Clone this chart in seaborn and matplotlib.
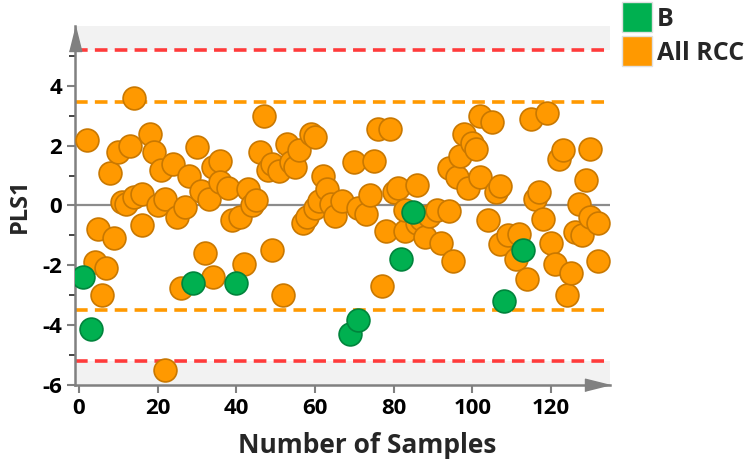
import seaborn as sns
import matplotlib.pyplot as plt
import pandas as pd
from matplotlib.lines import Line2D

# data (sample number, PLS1 score)
x_rcc = [2, 4, 5, 6, 7, 8, 9, 10, 11, 12, 13, 14, 14, 16, 16, 18, 19, 20, 21, 22,
         22, 24, 25, 26, 27, 28, 30, 31, 32, 33, 34, 34, 36, 36, 38, 39, 41, 42, 43, 44,
         45, 46, 47, 48, 49, 49, 51, 52, 53, 54, 55, 56, 57, 58, 59, 60, 60, 61, 62, 63,
         64, 65, 67, 70, 71, 73, 74, 75, 76, 77, 78, 79, 80, 81, 83, 83, 86, 86, 87, 88,
         89, 91, 92, 94, 94, 95, 96, 97, 98, 99, 100, 101, 102, 102, 104, 105, 106, 107, 107, 109,
         111, 112, 114, 115, 116, 117, 118, 119, 120, 121, 122, 123, 124, 125, 126, 127, 128, 129, 130, 130,
         132, 132]
y_rcc = [2.2, -1.9, -0.8, -3.0, -2.1, 1.1, -1.1, 1.8, 0.1, 0.05, 2.0, 3.6, 0.3, -0.65, 0.4, 2.4, 1.8, 0.0, 1.2, 0.2,
         -5.5, 1.4, -0.4, -2.75, -0.05, 1.0, 1.95, 0.5, -1.6, 0.2, 1.3, -2.4, 1.5, 0.8, 0.6, -0.5, -0.4, -1.95, 0.55, 0.0,
         0.17, 1.8, 3.0, 1.2, -1.5, 1.4, 1.15, -3.0, 2.05, 1.45, 1.3, 1.85, -0.6, -0.4, 2.4, 2.3, -0.1, 0.15, 1.0, 0.55,
         0.05, -0.35, 0.15, 1.45, -0.1, -0.3, 0.35, 1.5, 2.55, -2.7, -0.85, 2.55, 0.45, 0.6, -0.85, -0.15, 0.7, -0.6, -0.45, -1.05,
         -0.35, -0.15, -1.25, -0.2, 1.25, -1.85, 0.95, 1.65, 2.4, 0.6, 2.1, 1.9, 3.0, 0.95, -0.5, 2.8, 0.45, 0.65, -1.3, -1.0,
         -1.8, -0.95, -2.45, 2.9, 0.2, 0.45, -0.45, 3.1, -1.25, -1.95, 1.55, 1.85, -3.0, -2.25, -0.9, 0.05, -1.0, 0.85, 1.9, -0.4,
         -0.6, -1.85]

x_b = [1, 3, 29, 40, 69, 71, 82, 85, 108, 113]
y_b = [-2.4, -4.13, -2.6, -2.6, -4.3, -3.83, -1.8, -0.22, -3.18, -1.48]

groups = ['B', 'All RCC']
colors = {'B': '#00B050', 'All RCC': '#FF9900'}
edges = {'B': '#00843C', 'All RCC': '#C97800'}

upper_red, lower_red = 5.19, -5.2
upper_org, lower_org = 3.47, -3.48

df = pd.concat([
    pd.DataFrame({'Sample': x_rcc, 'PLS1': y_rcc, 'Group': 'All RCC'}),
    pd.DataFrame({'Sample': x_b, 'PLS1': y_b, 'Group': 'B'}),
], ignore_index=True)

sns.set_style('white')
plt.rcParams['font.family'] = ['Open Sans', 'DejaVu Sans']
plt.rcParams['font.weight'] = 'bold'
plt.rcParams['axes.unicode_minus'] = False  # plain hyphen like the reference

fig = plt.figure(figsize=(7.49, 4.63), dpi=100)
ax = fig.add_axes([0.1005, 0.1685, 0.7139, 0.7754])

# grey bands outside the red limits
ax.axhspan(upper_red, 6, color='#F2F2F2', zorder=0, lw=0)
ax.axhspan(-6, lower_red, color='#F2F2F2', zorder=0, lw=0)
ax.axhline(0, color='#8C8C8C', lw=1.6, zorder=1)
for yv in (upper_red, lower_red):
    ax.axhline(yv, color='#FF3B3B', lw=2.6, ls=(0, (3.5, 2)), zorder=1)
for yv in (upper_org, lower_org):
    ax.axhline(yv, color='#FF9900', lw=2.6, ls=(0, (3.5, 2)), zorder=1)

# orange first so green circles sit on top
for g in ['All RCC', 'B']:
    sns.scatterplot(data=df[df.Group == g], x='Sample', y='PLS1', color=colors[g],
                    edgecolor=edges[g], linewidth=1.2, s=270, legend=False, ax=ax, zorder=3)

ax.set_xlim(-0.9, 135)
ax.set_ylim(-6, 6)
ax.set_xticks([0, 20, 40, 60, 80, 100, 120])
ax.set_yticks([-6, -4, -2, 0, 2, 4])
ax.set_yticks([-5, -3, -1, 1, 3, 5], minor=True)
ax.tick_params(axis='both', labelsize=16, colors='#808080', labelcolor='black', width=1.5)
ax.tick_params(axis='y', which='major', length=6, left=True)
ax.tick_params(axis='y', which='minor', length=4, left=True, width=1.2)
ax.tick_params(axis='x', length=6, bottom=True)
for lab in ax.get_xticklabels() + ax.get_yticklabels():
    lab.set_fontweight('bold')

for side in ['top', 'right']:
    ax.spines[side].set_visible(False)
for side in ['left', 'bottom']:
    ax.spines[side].set_color('#808080')
    ax.spines[side].set_linewidth(1.8)

# arrow heads on the axes
ax.plot([0], [1], transform=ax.transAxes, marker=[(-0.25, -1), (0.25, -1), (0, 0)],
        markersize=36, color='#808080', clip_on=False, zorder=5)
ax.plot([1], [0], transform=ax.transAxes, marker=[(-1, -0.25), (-1, 0.25), (0, 0)],
        markersize=36, color='#808080', clip_on=False, zorder=5)

ax.set_xlabel('Number of Samples', fontsize=19, fontweight='bold')
ax.set_ylabel('PLS1', fontsize=17, fontweight='bold')
ax.xaxis.set_label_coords(0.545, -0.13)
ax.yaxis.set_label_coords(-0.081, 0.5)

handles = [Line2D([], [], ls='', marker='s', markersize=21, markerfacecolor=colors[g],
                  markeredgecolor='#E0E0E0', markeredgewidth=1) for g in groups]
leg = fig.legend(handles, groups, loc='upper left', bbox_to_anchor=(0.832, 0.985),
                 frameon=False, fontsize=18, handlelength=1.1, handletextpad=0.25,
                 labelspacing=0.35, borderaxespad=0, borderpad=0)
for t in leg.get_texts():
    t.set_fontweight('bold')

fig.savefig('out.png', dpi=100)
